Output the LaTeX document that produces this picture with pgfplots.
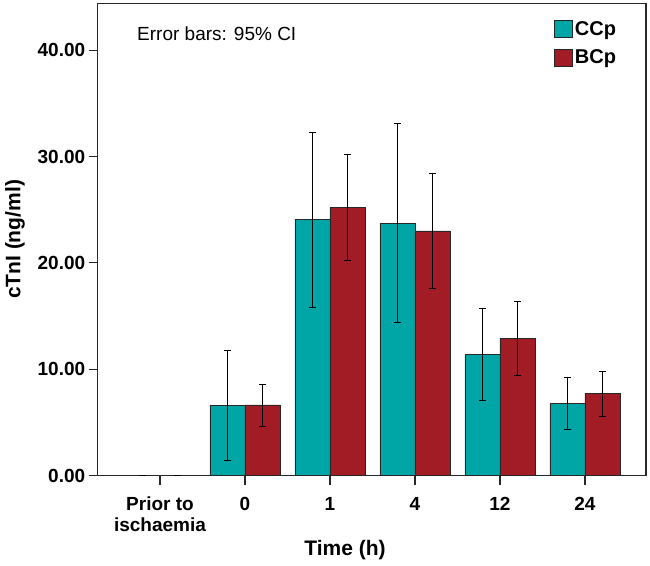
\documentclass[border=0pt]{standalone}
\usepackage{fontspec}
\setmainfont{Liberation Sans}
\usepackage{pgfplots}
\usepackage{pgfplotstable}
\pgfplotsset{compat=1.18}
\definecolor{cteal}{RGB}{0,165,166}
\definecolor{cred}{RGB}{161,28,36}
\definecolor{axgray}{RGB}{40,40,40}

\pgfplotstableread{
x y ep em
0 0 0 0
1 6.62 5.13 5.14
2 24.10 8.17 8.27
3 23.72 9.36 9.34
4 11.41 4.32 4.36
5 6.80 2.41 2.44
}\ccp

\pgfplotstableread{
x y ep em
0 0 0 0
1 6.65 1.97 2.01
2 25.25 4.95 4.98
3 23.00 5.38 5.42
4 12.88 3.47 3.44
5 7.74 2.10 2.16
}\bcp

\begin{document}
\begin{tikzpicture}
\useasboundingbox (0,0) rectangle (650bp,566bp);
\begin{axis}[
  at={(97.7bp,90.3bp)}, anchor=south west,
  scale only axis,
  width=548.3bp, height=472.4bp,
  xmin=-0.733, xmax=5.718,
  ymin=0, ymax=44.4,
  ybar=0pt, bar width=35bp,
  axis line style={axgray, line width=1.1bp},
  tick style={axgray, line width=1.1bp},
  major tick length=9bp,
  tick align=outside,
  xtick pos=bottom, ytick pos=left,
  xtick={0,1,2,3,4,5},
  xticklabels={{Prior to\\ischaemia},0,1,4,12,24},
  ytick={0,10,20,30,40},
  /pgf/number format/assume math mode=true,
  yticklabel style={/pgf/number format/.cd, fixed, fixed zerofill, precision=2},
  tick label style={font=\fontsize{19bp}{21bp}\selectfont\bfseries, black},
  xticklabel style={align=center, yshift=-9bp},
  xlabel={Time (h)},
  ylabel={cTnI (ng/ml)},
  label style={font=\fontsize{21bp}{24bp}\selectfont\bfseries, black},
  xlabel style={at={(axis description cs:0.451,-0.1573)}, anchor=center},
  ylabel style={at={(axis description cs:-0.1508,0.5)}, anchor=center, rotate=0},
  legend style={draw=none, fill=none, at={(0.832,0.966)}, anchor=north west,
    inner sep=0pt, row sep=9bp, font=\fontsize{20bp}{22bp}\selectfont\bfseries,
    nodes={inner sep=2bp}},
  legend cell align=left,
  clip=false,
]
\addplot[fill=cteal, draw=black!85, line width=0.8bp,
  legend image code/.code={\draw[fill=cteal, draw=black!85, line width=0.8bp] (0bp,-8.5bp) rectangle (18bp,8.5bp);},
  error bars/.cd, y dir=both, y explicit,
  error bar style={black, line width=0.8bp},
  error mark options={black, line width=0.8bp, mark size=3.5bp, rotate=90}]
  table[x=x, y=y, y error plus=ep, y error minus=em] {\ccp};
\addlegendentry{CCp}
\addplot[fill=cred, draw=black!85, line width=0.8bp,
  legend image code/.code={\draw[fill=cred, draw=black!85, line width=0.8bp] (0bp,-8.5bp) rectangle (18bp,8.5bp);},
  error bars/.cd, y dir=both, y explicit,
  error bar style={black, line width=0.8bp},
  error mark options={black, line width=0.8bp, mark size=3.5bp, rotate=90}]
  table[x=x, y=y, y error plus=ep, y error minus=em] {\bcp};
\addlegendentry{BCp}
\node[anchor=base west, inner sep=0pt, font=\fontsize{19bp}{21bp}\selectfont]
  at (rel axis cs:0.0717,0.922) {Error bars: 95\% CI};
\end{axis}
\end{tikzpicture}
\end{document}
